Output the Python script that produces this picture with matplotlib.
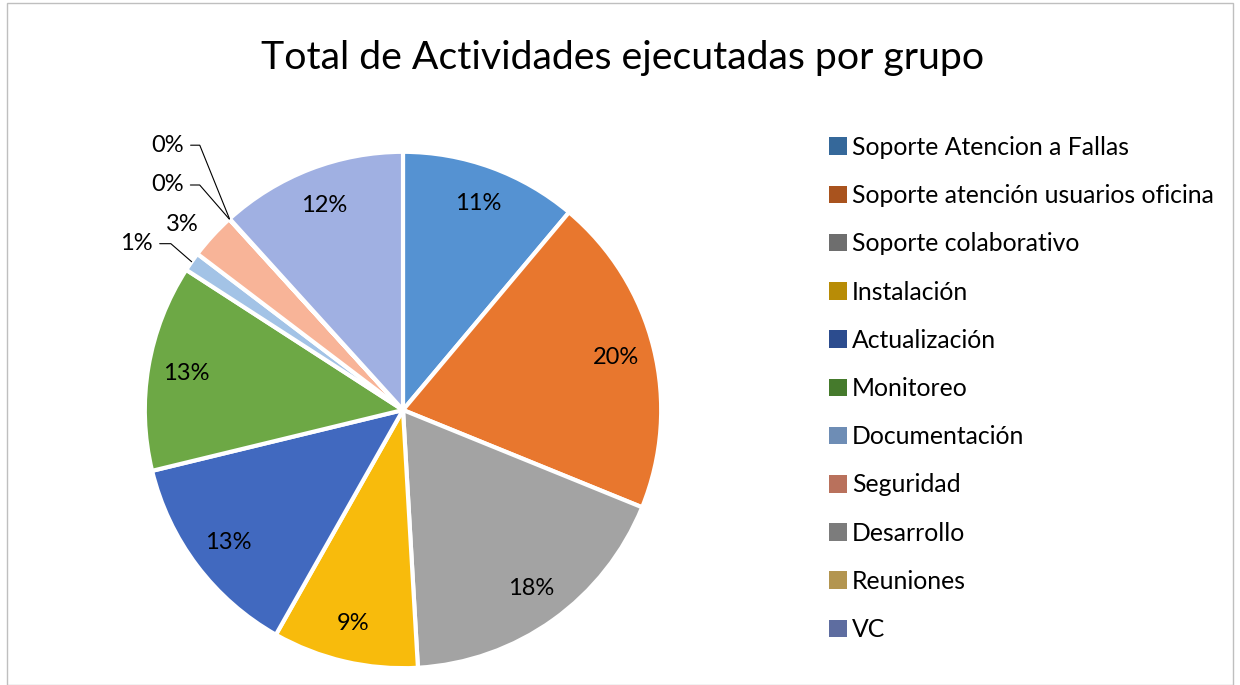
import matplotlib.pyplot as plt
import numpy as np
from matplotlib.patches import Patch, Rectangle

# ---------------------------------------------------------------
#   Data
# ---------------------------------------------------------------
title = 'Total de Actividades ejecutadas por grupo'

groups = ['Soporte Atencion a Fallas', 'Soporte atención usuarios oficina',
          'Soporte colaborativo', 'Instalación', 'Actualización', 'Monitoreo',
          'Documentación', 'Seguridad', 'Desarrollo', 'Reuniones', 'VC']

shares = [11.1, 20.0, 17.9, 9.1, 13.0, 12.9, 1.2, 2.9, 0.02, 0.02, 11.7]

wedge_colors = ['#5592D2', '#E8772E', '#A3A3A3', '#F8BB0C', '#4169BF', '#6DA845',
                '#A3C3E6', '#F8B498', '#C9C9C9', '#FFD966', '#A0B0E2']
legend_colors = ['#35689A', '#A9531E', '#6E6E6E', '#B88C06', '#2C4C8E', '#457A2C',
                 '#6E8DB5', '#B9715C', '#7C7C7C', '#B39550', '#5E6DA0']

plt.rcParams['font.family'] = ['Lato', 'DejaVu Sans']

fig = plt.figure(figsize=(12.4, 6.85), dpi=100)

# thin gray frame round the chart
fig.patches.append(Rectangle((0.006, 0.0), 0.988, 0.995, transform=fig.transFigure,
                             fill=False, edgecolor='#BFBFBF', linewidth=1.0))

fig.text(0.502, 0.915, title, ha='center', va='center', fontsize=28.3, color='#000000')

# ---------------------------------------------------------------
#   Pie
# ---------------------------------------------------------------
ax = fig.add_axes([119 / 1240, -9 / 685, 568 / 1240, 568 / 685])

wedges, _ = ax.pie(shares, colors=wedge_colors, startangle=90, counterclock=False,
                   radius=1.0, wedgeprops=dict(edgecolor='white', linewidth=3))

# pie() sets its own limits, so set ours afterwards
ax.set_xlim(-1.1, 1.1)
ax.set_ylim(-1.1, 1.1)
ax.set_aspect('equal')
ax.axis('off')

total = sum(shares)
for i, w in enumerate(wedges):
    mid = np.deg2rad((w.theta1 + w.theta2) / 2)
    pct = '{0:.0f}%'.format(100 * shares[i] / total)
    if shares[i] / total > 0.05:
        ax.text(0.85 * np.cos(mid), 0.85 * np.sin(mid), pct, ha='center', va='center',
                fontsize=17, color='#000000')

# small slices labelled outside, with leader lines
# index: (text offset x, y in points, leader angle at wedge in degrees)
small = {6: (-28, 13, 139), 8: (-33, 24.5, 131), 9: (-33, 53, 112)}
for i, (dx, dy, ang) in small.items():
    w = wedges[i]
    mid = np.deg2rad((w.theta1 + w.theta2) / 2)
    pct = '{0:.0f}%'.format(100 * shares[i] / total)
    ax.annotate(pct, xy=(np.cos(mid), np.sin(mid)), xytext=(dx, dy),
                textcoords='offset points', ha='right', va='center', fontsize=17,
                arrowprops=dict(arrowstyle='-', color='#000000', lw=0.8, relpos=(1, 0.5),
                                shrinkA=3, shrinkB=0,
                                connectionstyle='angle,angleA=0,angleB={0},rad=0'.format(ang)))

w = wedges[7]
mid = np.deg2rad((w.theta1 + w.theta2) / 2)
ax.annotate('{0:.0f}%'.format(100 * shares[7] / total), xy=(np.cos(mid), np.sin(mid)),
            xytext=(-22, 8), textcoords='offset points', ha='center', va='center',
            fontsize=17)

# ---------------------------------------------------------------
#   Legend
# ---------------------------------------------------------------
handles = [Patch(facecolor=c, edgecolor='none') for c in legend_colors]
fig.legend(handles, groups, loc='upper left', bbox_to_anchor=(819 / 1240, 1 - 126 / 685),
           frameon=False, fontsize=17.8, handlelength=0.72, handleheight=0.72,
           handletextpad=0.2, labelspacing=1.02, borderaxespad=0)

fig.savefig('out.png', dpi=100)
